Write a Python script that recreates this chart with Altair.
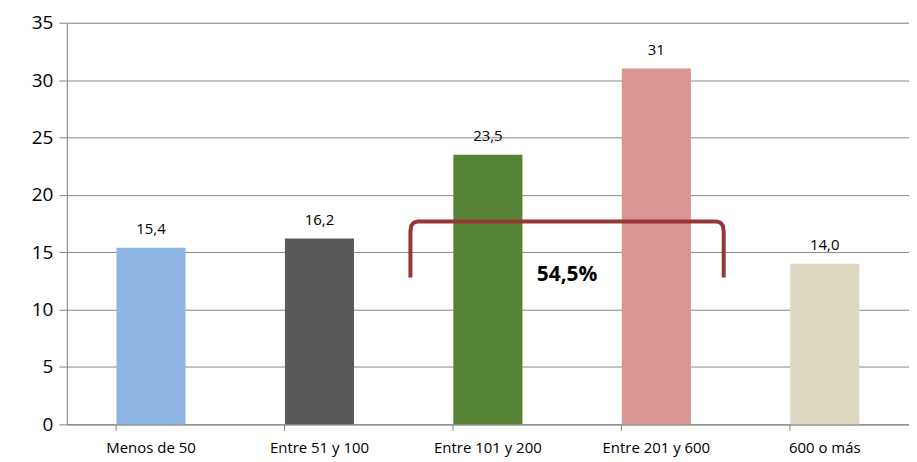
import altair as alt
import pandas as pd

categories = ["Menos de 50", "Entre 51 y 100", "Entre 101 y 200", "Entre 201 y 600", "600 o más"]
values = [15.4, 16.2, 23.5, 31.0, 14.0]
labels = ["15,4", "16,2", "23,5", "31", "14,0"]
colors = ["#8EB4E3", "#595959", "#558235", "#D99594", "#DDD9C3"]

# bracket annotation (x in category-band units, y in data units)
bracket_x = [2.04, 2.04, 2.045, 2.06, 2.08, 3.86, 3.88, 3.895, 3.90, 3.90]
bracket_y = [12.8, 16.8, 17.3, 17.58, 17.67, 17.67, 17.58, 17.3, 16.8, 12.8]
annot_text = ["54,5%"]
annot_x = [2.97]
annot_y = [13.0]

FONT = "Open Sans"

df = pd.DataFrame({"cat": categories, "val": values, "lab": labels, "col": colors})
bdf = pd.DataFrame({"bx": bracket_x, "by": bracket_y, "ord": list(range(len(bracket_x)))})
adf = pd.DataFrame({"t": annot_text, "ax": annot_x, "ay": annot_y})

yscale = alt.Scale(domain=[0, 35])
xenc = alt.X("cat:N", sort=categories, title=None,
             scale=alt.Scale(paddingInner=0.59, paddingOuter=0.295),
             axis=alt.Axis(labelAngle=0, labelFont=FONT, labelFontSize=15, labelColor="#000000",
                           labelPadding=10, domainColor="#868686", tickColor="#868686",
                           tickSize=6, bandPosition=0, grid=False))
yenc = alt.Y("val:Q", scale=yscale, title=None,
             axis=alt.Axis(values=[0, 5, 10, 15, 20, 25, 30, 35], labelFont=FONT, labelFontSize=19,
                           labelColor="#000000", labelPadding=6, domainColor="#868686",
                           tickColor="#868686", tickSize=8, gridColor="#898989", gridWidth=1))

bars = alt.Chart(df).mark_bar().encode(
    x=xenc, y=yenc,
    color=alt.Color("col:N", scale=None),
)
text = alt.Chart(df).mark_text(baseline="bottom", dy=-11, font=FONT, fontSize=15, color="#000000").encode(
    x=alt.X("cat:N", sort=categories),
    y=alt.Y("val:Q", scale=yscale),
    text="lab:N",
)

qx = alt.Scale(domain=[0, 5])
bracket = alt.Chart(bdf).mark_line(color="#953735", strokeWidth=4, strokeJoin="round", strokeCap="butt").encode(
    x=alt.X("bx:Q", scale=qx, axis=None),
    y=alt.Y("by:Q", scale=yscale),
    order="ord:Q",
)
annot = alt.Chart(adf).mark_text(font=FONT, fontSize=21, fontWeight="bold", color="#000000").encode(
    x=alt.X("ax:Q", scale=qx, axis=None),
    y=alt.Y("ay:Q", scale=yscale),
    text="t:N",
)

base = alt.layer(bars, text).resolve_scale(x="shared")
chart = alt.layer(base, bracket, annot).resolve_scale(x="independent").properties(
    width=845, height=403,
    padding={"left": 59, "top": 14, "right": 0, "bottom": 36},
    autosize=alt.AutoSizeParams(type="none"),
).configure_view(stroke=None).configure(background="white")

chart.save("out.html", embed_options={"renderer": "svg", "actions": False})
